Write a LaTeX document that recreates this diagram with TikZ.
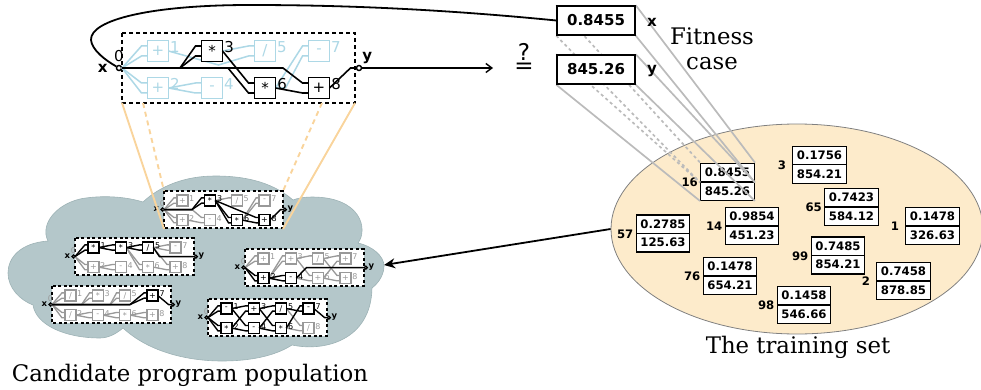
\documentclass[tikz,border=0pt]{standalone}
\usepackage{fontspec}
\setmainfont{DejaVu Sans}
\newfontfamily\capfont{DejaVu Serif}
\usetikzlibrary{positioning,arrows.meta,shapes.geometric}
\pgfdeclarelayer{front}
\pgfsetlayers{main,front}

\definecolor{cloudfill}{HTML}{B4C7CA}
\definecolor{cloudedge}{HTML}{9DB2B5}
\definecolor{setfill}{HTML}{FDEBCB}
\definecolor{beamcol}{HTML}{BBBBBB}
\definecolor{zoomcol}{HTML}{F9D49C}
\definecolor{paleblue}{HTML}{ADD8E6}
\definecolor{palegray}{HTML}{999999}

\tikzset{
	bigprog/.style={x=1pt,y=-1pt,boxsize=21pt,idxfont=\fontsize{15}{15}\selectfont,framew=1.4pt,frameon=4pt,frameoff=3pt,livew=1.6pt,idlew=1.5pt,endr=5pt,zerogap=4pt,tagfont=\fontsize{15}{15}\selectfont\bfseries},
	smallprog/.style={x=.51pt,y=-.53pt,boxsize=11pt,idxfont=\fontsize{8}{8}\selectfont,framew=1.5pt,frameon=3pt,frameoff=2.5pt,livew=1.4pt,idlew=1.3pt,endr=3pt,zerogap=1.5pt,tagfont=\fontsize{8.5}{8.5}\selectfont\bfseries},
	boxsize/.store in=\boxsize,
	idxfont/.store in=\idxfont,
	framew/.store in=\framew,
	frameon/.store in=\frameon,
	frameoff/.store in=\frameoff,
	livew/.store in=\livew,
	idlew/.store in=\idlew,
	endr/.store in=\endr,
	zerogap/.store in=\zerogap,
	tagfont/.store in=\tagfont,
	stub/.style={to path={-- ([shift={(-6,0)}]\tikztotarget) -- (\tikztotarget)}},
	livewire/.style={stub,draw=black,line width=\livew},
	idlewire/.style={stub,draw=idlecol,line width=\idlew},
	live/.style={draw=black,text=black,line width=1.2*\livew},
	idle/.style={draw=idlecol,text=idlecol,line width=\idlew},
	fnbox/.style={rectangle,fill=white,inner sep=0pt,minimum size=\boxsize,font=\idxfont},
	fnidx/.style={inner sep=0pt,anchor=north west,font=\idxfont,yshift=-1pt},
	endpoint/.style={circle,draw=black,fill=white,inner sep=0pt,line width=\livew*.9,minimum size=\endr},
	progtag/.style={inner sep=0pt,font=\tagfont},
	casebox/.style={draw,fill=white,line width=1.5pt,inner sep=0pt,minimum width=78pt,minimum height=29pt,font=\fontsize{15}{15}\selectfont\bfseries},
	casetag/.style={inner sep=0pt,font=\fontsize{15}{15}\selectfont\bfseries},
	cell/.style={draw,fill=white,line width=1.4pt,inner sep=0pt,minimum width=53.5pt,minimum height=18.5pt,font=\fontsize{11.7}{11.7}\selectfont\bfseries},
	casenum/.style={inner sep=0pt,minimum width=16pt,font=\fontsize{11.7}{11.7}\selectfont\bfseries},
	caption/.style={inner sep=0pt,font=\capfont\fontsize{22.8}{22.8}\selectfont},
	beam/.style={draw=beamcol,line width=1.7pt},
	beamd/.style={draw=beamcol,line width=1.7pt,dash pattern=on 3pt off 3pt},
	zoomline/.style={draw=zoomcol,line width=1.9pt},
	zoomdash/.style={draw=zoomcol,line width=1.9pt,dash pattern=on 5pt off 4pt},
}

% frame, anchors and end points of one program
\newcommand{\progframe}[3]{
	\draw[line width=\framew,dash pattern=on \frameon off \frameoff,fill=white] (0,0) rectangle (233,70);
	\foreach \n/\x/\y in {1/36/18,2/36/55,3/90/18,4/90/55,5/143/18,6/143/55,7/197/18,8/197/55} {
		\coordinate (#1p\n) at (\x,\y);
		\coordinate (#1\n a) at (\x-10.5,\y-5);
		\coordinate (#1\n b) at (\x-10.5,\y+5);
		\coordinate (#1\n e) at (\x+10.5,\y);
	}
	\coordinate (#10e) at (0,35);
	\coordinate (#19w) at (234.5,35);
	\node[endpoint] (#10) at (-3,35) {};
	\node[endpoint] (#19) at (237,35) {};
	\node[progtag,left=#2 of #10] (#1x) {x};
	\node[progtag,#3 of #19] (#1y) {y};
	\node[fnidx,anchor=south,text=zerocol,yshift=\zerogap] (#1z) at (#10.north) {0};
}
\newcommand{\fnboxes}[2]{
	\foreach \n/\op/\st in {#2} {
		\node[fnbox,\st] (#1\n) at (#1p\n) {\op};
		\node[fnidx,\st,draw=none] (#1\n i) at (#1\n.north east) {\n};
	}
}
\newcommand{\wires}[2]{
	\foreach \s/\d/\vx/\vy in {#2} {
		\draw[#1] (\s) -- ++(\vx,\vy) to (\d);
	}
}
\newcommand{\fitcase}[6]{
	\node[cell,anchor=south] (#1a) at (#2,#3) {#4};
	\node[cell,below=-1.4pt of #1a] (#1b) {#5};
	\node[casenum,left=2pt of #1a.south west] (#1n) {#6};
}
\def\dv{/}

\begin{document}
\begin{tikzpicture}[x=1pt,y=-1pt]
	\useasboundingbox (0,0) rectangle (981,390);

	% population
	\draw[fill=cloudfill,draw=cloudedge,line width=.6pt] (48,241)
		.. controls (20,243) and (8,258) .. (8,273)
		.. controls (8,288) and (20,300) .. (33,305)
		.. controls (36,325) and (65,338) .. (100,338)
		.. controls (108,338) and (116,334) .. (123,328)
		.. controls (150,353) and (190,361) .. (222,361)
		.. controls (250,361) and (275,356) .. (292,345)
		.. controls (325,352) and (371,340) .. (372,288)
		.. controls (380,282) and (384,273) .. (384,266)
		.. controls (384,256) and (372,246) .. (358,243)
		.. controls (368,230) and (362,197) .. (312,197)
		.. controls (305,197) and (298,198) .. (293,200)
		.. controls (270,180) and (240,176) .. (215,176)
		.. controls (185,176) and (160,186) .. (143,202)
		.. controls (120,195) and (95,196) .. (80,199)
		.. controls (55,205) and (40,225) .. (48,241) -- cycle;

	% training set
	\node[ellipse,draw=gray,fill=setfill,line width=.8pt,minimum width=372pt,minimum height=210pt,inner sep=0pt] (trainset) at (797,229) {};
	\fitcase{rA}{727.5}{182.5}{0.8455}{845.26}{16}
	\fitcase{rB}{819.5}{165.5}{0.1756}{854.21}{3}
	\fitcase{rC}{851.5}{207.5}{0.7423}{584.12}{65}
	\fitcase{rD}{932.5}{226.5}{0.1478}{326.63}{1}
	\fitcase{rE}{663}{234}{0.2785}{125.63}{57}
	\fitcase{rF}{752}{226.5}{0.9854}{451.23}{14}
	\fitcase{rG}{838}{256}{0.7485}{854.21}{99}
	\fitcase{rH}{730}{276.5}{0.1478}{654.21}{76}
	\fitcase{rI}{903.5}{281.5}{0.7458}{878.85}{2}
	\fitcase{rJ}{804}{305.5}{0.1458}{546.66}{98}

	% fitness case, blown up from row 16
	\begin{pgfonlayer}{front}
		\node[casebox] (casex) at (596,20.5) {0.8455};
		\node[casebox] (casey) at (596,69.5) {845.26};
	\end{pgfonlayer}
	\path[beamd] (casex.north west) -- (rAa.north west);
	\path[beamd] (casex.south west) -- (rAa.south west);
	\path[beamd] (casey.north west) -- (rAa.south west);
	\path[beam] (casex.north east) -- (rAa.north east);
	\path[beam] (casex.south east) -- (rAa.south east);
	\path[beam] (casey.north east) -- (rAa.south east);
	\path[beam] (casey.south east) -- (rAb.south east);
	\path[beam] (casey.south west) -- (rAb.south west);
	\node[casetag] (tagx) at (652,22) {x};
	\node[casetag] (tagy) at (652,71) {y};
	\node[caption] (fit1) at (712,36) {Fitness};
	\node[caption] (fit2) at (712,64) {case};
	\node[caption] (traincap) at (798,347) {The training set};
	\node[caption] (popcap) at (190,375) {Candidate program population};

	% program blown up
	\begin{scope}[shift={(122,33)},bigprog]
		\colorlet{idlecol}{paleblue}
		\colorlet{zerocol}{black}
		\progframe{b}{8pt}{above right=2pt and 1pt}
		\wires{idlewire}{b0e/b1a/0/0,b0e/b1b/0/0,b0e/b2a/0/0,b0e/b2b/0/0,b1e/b5b/50/14,b3e/b5a/0/0,b2e/b4a/0/0,b2e/b4b/0/0,b6e/b7a/0/0,b6e/b7b/10/0}
		\fnboxes{b}{1/+/idle,2/+/idle,3/*/live,4/-/idle,5/\dv/idle,6/*/live,7/-/idle,8/+/live}
		\wires{livewire}{b0e/b3a/58/0,b0e/b3b/58/0,b3e/b6a/0/0,b0e/b6b/106/0,b0e/b8a/161/0,b6e/b8b/0/0,b8e/b9w/0/0}
	\end{scope}

	% the population
	\begin{scope}[shift={(164,191)},smallprog]
		\colorlet{idlecol}{palegray}
		\colorlet{zerocol}{palegray}
		\progframe{c}{1pt}{right=.5pt}
		\wires{idlewire}{c0e/c1a/0/0,c0e/c1b/0/0,c0e/c2a/0/0,c0e/c2b/0/0,c0e/c4a/55/0,c2e/c4b/0/0,c3e/c5a/0/0,c6e/c7a/0/0,c6e/c7b/0/0}
		\fnboxes{c}{1/+/idle,2/+/idle,3/*/live,4/-/idle,5/\dv/idle,6/*/live,7/-/idle,8/+/live}
		\wires{livewire}{c0e/c3a/55/0,c0e/c3b/55/0,c3e/c6a/0/0,c3e/c6b/0/0,c3e/c8a/0/0,c6e/c8b/0/0,c8e/c9w/0/0}
	\end{scope}
	\begin{scope}[shift={(75,238)},smallprog]
		\colorlet{idlecol}{palegray}
		\colorlet{zerocol}{palegray}
		\progframe{d}{1pt}{right=.5pt}
		\wires{idlewire}{d0e/d2a/0/0,d0e/d2b/0/0,d2e/d4a/0/0,d2e/d4b/0/0,d3e/d6a/0/0,d3e/d6b/0/0,d5e/d7a/0/0,d5e/d7b/0/0,d5e/d8a/0/0,d6e/d8b/0/0}
		\fnboxes{d}{1/*/live,2/+/idle,3/*/live,4/-/idle,5/\dv/live,6/*/idle,7/-/idle,8/+/idle}
		\wires{livewire}{d0e/d1a/0/0,d0e/d1b/0/0,d1e/d3a/0/0,d1e/d3b/0/0,d3e/d5a/0/0,d3e/d5b/0/0,d5e/d9w/12/17}
	\end{scope}
	\begin{scope}[shift={(52,286)},smallprog]
		\colorlet{idlecol}{palegray}
		\colorlet{zerocol}{palegray}
		\progframe{e}{1pt}{right=.5pt}
		\wires{idlewire}{e0e/e1a/0/0,e0e/e1b/0/0,e0e/e2a/0/0,e0e/e2b/0/0,e0e/e3a/58/0,e0e/e3b/58/0,e0e/e5a/114/0,e0e/e5b/114/0,e2e/e4a/0/0,e2e/e4b/0/0,e4e/e6a/0/0,e4e/e6b/0/0,e6e/e8a/0/0,e6e/e8b/0/0}
		\fnboxes{e}{1/\dv/idle,2/\dv/idle,3/*/idle,4/-/idle,5/\dv/idle,6/*/idle,7/+/live,8/+/idle}
		\wires{livewire}{e0e/e7a/153/0,e0e/e7b/153/0,e7e/e9w/0/0}
	\end{scope}
	\begin{scope}[shift={(245,249)},smallprog]
		\colorlet{idlecol}{palegray}
		\colorlet{zerocol}{palegray}
		\progframe{f}{1pt}{right=.5pt}
		\wires{idlewire}{f0e/f1a/0/0,f0e/f1b/0/0,f2e/f3a/0/0,f2e/f3b/0/0,f3e/f5a/0/0,f3e/f6a/0/0,f4e/f6b/0/0,f5e/f7a/0/0,f5e/f8a/0/0,f6e/f7b/0/0,f6e/f8b/0/0}
		\fnboxes{f}{1/+/idle,2/+/live,3/+/idle,4/-/live,5/\dv/idle,6/+/idle,7/+/idle,8/+/idle}
		\wires{livewire}{f0e/f2a/0/0,f0e/f2b/0/0,f2e/f4a/0/0,f2e/f4b/0/0,f4e/f9w/20/-20}
	\end{scope}
	\begin{scope}[shift={(208,299)},smallprog]
		\colorlet{idlecol}{palegray}
		\colorlet{zerocol}{palegray}
		\progframe{g}{1pt}{right=.5pt}
		\wires{idlewire}{g5e/g8a/0/0,g6e/g8b/0/0}
		\fnboxes{g}{1/-/live,2/*/live,3/+/live,4/-/live,5/\dv/live,6/*/live,7/-/live,8/\dv/idle}
		\wires{livewire}{g0e/g1a/0/0,g0e/g1b/0/0,g0e/g2a/0/0,g0e/g2b/0/0,g1e/g3a/0/0,g1e/g4a/0/0,g2e/g3b/0/0,g2e/g4b/0/0,g3e/g5a/0/0,g3e/g6a/0/0,g4e/g5b/0/0,g4e/g6b/0/0,g5e/g7b/0/0,g6e/g7a/0/0,g7e/g9w/0/0}
	\end{scope}

	% lines from the frame down to the population
	\coordinate (zoomA) at (143,103);
	\coordinate (zoomB) at (322,103);
	\coordinate (zoomC) at (122,103);
	\coordinate (zoomD) at (355,103);
	\coordinate (zoomE) at (164,191);
	\coordinate (zoomF) at (283,191);
	\coordinate (zoomG) at (164,229);
	\coordinate (zoomH) at (283,229);
	\path[zoomdash] (zoomA) -- (zoomE);
	\path[zoomdash] (zoomB) -- (zoomF);
	\path[zoomline] (zoomC) -- (zoomG);
	\path[zoomline] (zoomD) -- (zoomH);

	% loop from the fitness case, test, picking a program
	\draw[line width=1.8pt] (casex.west) .. controls (430,8) and (330,5) .. (250,5)
		.. controls (150,5) and (90,20) .. (91,40) .. controls (92,50) and (105,60) .. (b0);
	\coordinate (testpt) at (493,68);
	\draw[line width=1.4pt,-{Straight Barb[length=6pt,width=9pt]}] (b9) -- (testpt);
	\node[inner sep=0pt,anchor=base,font=\fontsize{23}{23}\selectfont] (asktest) at (524,73.5) {\ooalign{\hfil\raisebox{12.5pt}{?}\hfil\cr=\cr}};
	\coordinate (cloudtip) at (384,265);
	\draw[line width=1.8pt,-{Stealth[length=11pt,width=10pt]}] (trainset.west) -- (cloudtip);
\end{tikzpicture}
\end{document}
